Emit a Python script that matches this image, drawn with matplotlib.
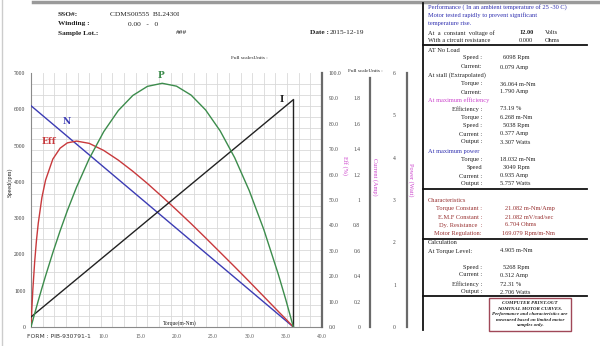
import numpy as np
import matplotlib
matplotlib.use("Agg")
import matplotlib.pyplot as plt
from matplotlib.lines import Line2D
from matplotlib.patches import Rectangle

# ── data ───────────────────────────────────────────────────────────────────
line_torque = [0.0, 36.064]          # no load -> stall
speed_rpm = [6098, 0]
current_amp = [0.079, 1.790]

torque = [0, 0.1, 0.25, 0.5, 0.75, 1, 1.5, 2, 3, 4, 5, 6.268, 8, 10, 12, 14,
          16, 18.032, 20, 22, 24, 26, 28, 30, 32, 34, 35, 36.064]
eff_pct = [0, 6.3, 14.5, 25.5, 34.1, 40.9, 51.0, 57.8, 66.1, 70.4, 72.5, 73.19,
           72.3, 69.5, 65.7, 61.3, 56.5, 51.3, 46.1, 40.7, 35.1, 29.4, 23.7,
           17.9, 12.0, 6.1, 3.2, 0]
power_w = [0, 0.064, 0.159, 0.315, 0.469, 0.621, 0.918, 1.206, 1.756, 2.271,
           2.750, 3.307, 3.975, 4.615, 5.113, 5.470, 5.684, 5.757, 5.689,
           5.479, 5.127, 4.633, 3.998, 3.221, 2.303, 1.242, 0.659, 0]

x_ticks = [10, 15, 20, 25, 30, 35, 40]
speed_ticks = [0, 1000, 2000, 3000, 4000, 5000, 6000, 7000]
eff_ticks = [0, 10, 20, 30, 40, 50, 60, 70, 80, 90, 100]
cur_ticks = [0, 0.2, 0.4, 0.6, 0.8, 1.0, 1.2, 1.4, 1.6, 1.8]
cur_labels = ["0", "0.2", "0.4", "0.6", "0.8", "1", "1.2", "1.4", "1.6", "1.8"]
pow_ticks = [0, 1, 2, 3, 4, 5, 6]

# ── style ──────────────────────────────────────────────────────────────────
W, H = 600, 346
SERIF = "Liberation Serif"
BLUE = "#3c3cb4"
RED = "#c8393c"
GREEN = "#3c8c4c"
BLACK = "#222222"
MAGENTA = "#cc44cc"
DKRED = "#983030"
HEADBLUE = "#3030b0"
SPINE = "#6a6a6a"

def px(x, y):
    return x / W, 1 - y / H

fig = plt.figure(figsize=(6.0, 3.46), dpi=100)
fig.patch.set_facecolor("white")

# main axes (speed)
ax = fig.add_axes([31 / W, 19 / H, 291 / W, 254 / H])
ax.set_xlim(0, 40)
ax.set_ylim(0, 7000)
ax.set_xticks(x_ticks)
ax.set_xticklabels([f"{v:.1f}" for v in x_ticks], fontsize=4, family=SERIF,
                   color="#555555")
ax.set_yticks(speed_ticks)
ax.set_yticklabels([str(v) for v in speed_ticks], fontsize=4, family=SERIF,
                   color="#333333")
ax.set_xticks(np.linspace(0, 40, 26), minor=True)
ax.set_yticks(np.linspace(0, 7000, 24), minor=True)
ax.tick_params(which="both", length=0)
ax.tick_params(axis="x", pad=5)
ax.tick_params(axis="y", pad=4)
ax.grid(which="minor", color="#d9d9d9", linewidth=0.6)
ax.set_axisbelow(True)
for s in ("top", "right"):
    ax.spines[s].set_visible(False)
for s in ("left", "bottom"):
    ax.spines[s].set_color("#8a8a8a")
    ax.spines[s].set_linewidth(0.8)

ax.plot(line_torque, speed_rpm, color=BLUE, linewidth=1.0, zorder=3)

# efficiency axis
ax_eff = ax.twinx()
ax_eff.set_ylim(0, 100)
ax_eff.set_yticks(eff_ticks)
ax_eff.set_yticklabels([f"{v:.1f}" for v in eff_ticks], fontsize=4,
                       family=SERIF, color="#444444")
ax_eff.tick_params(length=0, pad=5)
for s in ("top", "left", "bottom"):
    ax_eff.spines[s].set_visible(False)
ax_eff.spines["right"].set_color(SPINE)
ax_eff.spines["right"].set_linewidth(1.6)
ax_eff.plot(torque, eff_pct, color=RED, linewidth=1.0)

# current axis
ax_cur = ax.twinx()
ax_cur.set_ylim(0, 2)
for s in ("top", "right", "bottom"):
    ax_cur.spines[s].set_visible(False)
ax_cur.spines["left"].set_visible(True)
ax_cur.spines["left"].set_position(("axes", (370 - 31) / 291))
ax_cur.spines["left"].set_bounds(0, 1.96)
ax_cur.spines["left"].set_color(SPINE)
ax_cur.spines["left"].set_linewidth(1.6)
ax_cur.yaxis.set_ticks_position("left")
ax_cur.set_yticks(cur_ticks)
ax_cur.set_yticklabels(cur_labels, fontsize=4, family=SERIF, color="#444444")
ax_cur.tick_params(length=0, pad=7)
ax_cur.plot(line_torque, current_amp, color=BLACK, linewidth=1.0)
ax_cur.plot([line_torque[1], line_torque[1]], [current_amp[1], 0],
            color=BLACK, linewidth=1.0)

# power axis
ax_pow = ax.twinx()
ax_pow.set_ylim(0, 6)
for s in ("top", "right", "bottom"):
    ax_pow.spines[s].set_visible(False)
ax_pow.spines["left"].set_visible(True)
ax_pow.spines["left"].set_position(("axes", (407 - 31) / 291))
ax_pow.spines["left"].set_color(SPINE)
ax_pow.spines["left"].set_linewidth(1.6)
ax_pow.yaxis.set_ticks_position("left")
ax_pow.set_yticks(pow_ticks)
ax_pow.set_yticklabels([str(v) for v in pow_ticks], fontsize=4, family=SERIF,
                       color="#444444")
ax_pow.tick_params(length=0, pad=8)
ax_pow.plot(torque, power_w, color=GREEN, linewidth=1.0)

# curve tags
tag = dict(family="DejaVu Serif", fontweight="bold", fontsize=6.5,
           ha="center", va="center")
fig.text(*px(67, 122), "N", color=BLUE, **tag)
fig.text(*px(49, 141), "Eff", color=RED, **tag)
fig.text(*px(161, 75), "P", color=GREEN, **tag)
fig.text(*px(282, 100), "I", color=BLACK, **tag)

# axis titles
fig.text(*px(10, 182), "Speed(rpm)", rotation=90, fontsize=4.5, family=SERIF,
         ha="center", va="center", color=BLACK)
fig.text(*px(345, 165), "Eff (%)", rotation=-90, fontsize=4.5, family=SERIF,
         ha="center", va="center", color=MAGENTA)
fig.text(*px(375, 177), "Current (Amp)", rotation=-90, fontsize=4.5,
         family=SERIF, ha="center", va="center", color=MAGENTA)
fig.text(*px(411, 180), "Power (Watt)", rotation=-90, fontsize=4.5,
         family=SERIF, ha="center", va="center", color=MAGENTA)
fig.text(*px(180, 323), "Torque(m-Nm)", fontsize=4, family=SERIF,
         ha="center", va="center", color=BLACK)
fig.text(*px(249, 58), "Full scalesUnits :", fontsize=3.8, family=SERIF,
         ha="center", va="center", color=BLACK)
fig.text(*px(365, 71), "Full scaleUnits :", fontsize=3.8, family=SERIF,
         ha="center", va="center", color=BLACK)
fig.text(*px(27, 337), "FORM : PIB-930791-1", fontsize=4.3,
         family="DejaVu Sans", ha="left", va="center", color="#333333")

# header
hd = dict(family=SERIF, fontsize=5.3, va="center", color=BLACK)
fig.text(*px(58, 15), "SSO#:", fontweight="bold", **hd)
fig.text(*px(110, 15), "CDMS00555  BL2430I", **hd)
fig.text(*px(58, 24), "Winding :", fontweight="bold", **hd)
fig.text(*px(128, 24), "0.00   -   0", **hd)
fig.text(*px(58, 33), "Sample Lot.:", fontweight="bold", **hd)
fig.text(*px(176, 33), "###", **hd)
fig.text(*px(310, 33), "Date :", fontweight="bold", **hd)
fig.text(*px(330, 33), "2015-12-19", **hd)

# page frame lines
fig.add_artist(Line2D([33 / W, 1], [1 - 1.5 / H] * 2, color="#9a9a9a",
                      linewidth=2.5))
fig.add_artist(Line2D([2 / W, 2 / W], [0, 1], color="#cccccc", linewidth=1))
fig.add_artist(Line2D([423 / W, 423 / W], [1 - 3 / H, 1 - 330 / H],
                      color="#111111", linewidth=1.3))
for yy in (45, 189, 239, 296):
    fig.add_artist(Line2D([423 / W, 587 / W], [1 - yy / H] * 2,
                          color="#111111", linewidth=1.3))

# right-hand performance panel
FS = 4.6
def left(y, s, color=BLACK, x=428, **kw):
    fig.text(*px(x, y), s, fontsize=FS, family=SERIF, color=color,
             ha="left", va="center", **kw)

def row(y, label, value, color=BLACK, vx=500):
    fig.text(*px(482, y), label, fontsize=FS, family=SERIF, color=color,
             ha="right", va="center")
    fig.text(*px(vx, y), value, fontsize=FS, family=SERIF, color=color,
             ha="left", va="center")

left(7, "Performance ( In an ambient temperature of 25 -30 C)", HEADBLUE)
left(15, "Motor tested rapidly to prevent significant", HEADBLUE)
left(24, "temperature rise.", HEADBLUE)
left(33, "At  a  constant  voltage of")
left(33, "12.00", x=519, fontweight="bold")
left(33, "Volts", x=545)
left(41, "With a circuit resistance")
left(41, "0.000", x=519)
left(41, "Ohms", x=545)

left(50, "AT No Load")
row(58, "Speed :", "6098 Rpm", vx=503)
row(67, "Current:", "0.079 Amp")
left(75, "At stall (Extrapolated)")
row(84, "Torque :", "36.064 m-Nm")
row(92, "Current:", "1.790 Amp")
left(100, "At maximum efficiency", MAGENTA)
row(109, "Efficiency :", "73.19 %")
row(117, "Torque :", "6.268 m-Nm")
row(126, "Speed :", "5038 Rpm", vx=503)
row(134, "Current :", "0.377 Amp")
row(142, "Output :", "3.307 Watts")
left(151, "At maximum power", HEADBLUE)
row(159, "Torque :", "18.032 m-Nm")
row(167, "Speed", "3049 Rpm", vx=503)
row(176, "Current :", "0.935 Amp")
row(184, "Output :", "5.757 Watts")

left(200, "Characteristics", DKRED)
row(209, "Torque Constant :", "21.082 m-Nm/Amp", DKRED, vx=505)
row(217, "E.M.F Constant :", "21.082 mV/rad/sec", DKRED, vx=505)
row(225, "Dy. Resistance  :", "6.704 Ohms", DKRED, vx=505)
row(233, "Motor Regulation:", "169.079 Rpm/m-Nm", DKRED, vx=502)

left(242, "Calculation")
left(251, "At Torque Level:")
left(251, "4.905 m-Nm", x=500)
row(267, "Speed :", "5268 Rpm", vx=503)
row(275, "Current :", "0.312 Amp")
row(284, "Efficiency :", "72.31 %")
row(292, "Output :", "2.706 Watts")

fig.add_artist(Rectangle((489 / W, 1 - 331 / H), 82 / W, 33 / H,
                         transform=fig.transFigure, fill=False,
                         edgecolor="#a04858", linewidth=1.0))
note = ["COMPUTER PRINT-OUT", "NOMINAL MOTOR CURVES.",
        "Performance and characteristics are",
        "measured based on limited motor", "samples only."]
for i, s in enumerate(note):
    fig.text(*px(530, 303 + i * 5.6), s, fontsize=3.6, family=SERIF,
             fontweight="bold", fontstyle="italic", ha="center", va="center",
             color=BLACK)

fig.savefig("out.png", dpi=100, facecolor="white")
